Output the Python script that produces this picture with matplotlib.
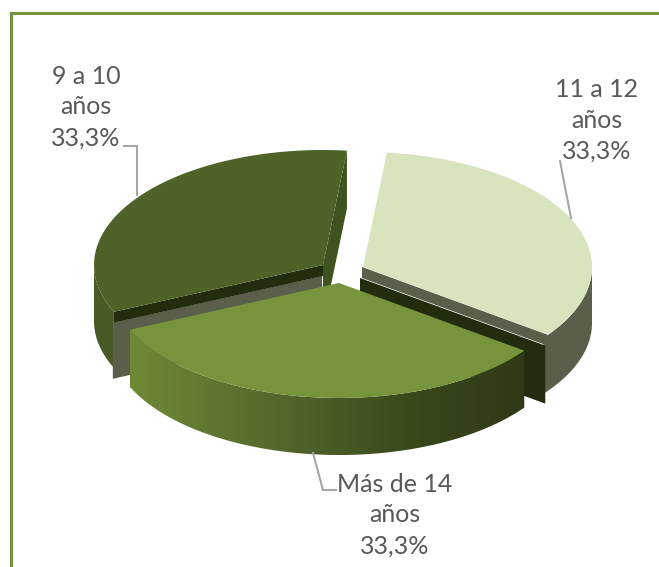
import numpy as np
import matplotlib
matplotlib.use("Agg")
import matplotlib.pyplot as plt
from matplotlib.colors import LinearSegmentedColormap
from matplotlib.patches import Polygon

categories = ["11 a 12\naños", "Más de 14\naños", "9 a 10\naños"]
values = [33.3, 33.3, 33.3]
pct_labels = ["33,3%", "33,3%", "33,3%"]

top_colors = ["#d7e4bd", "#77933c", "#4f6228"]
grey_wall = "#5a5f4b"
dark_wall = "#222c0f"
side_dark = "#3f5320"
side_left = "#495b25"
text_color = "#595959"
leader_color = "#a6a6a6"

W, H = 659, 567
RX, RY = 229, 115
DEPTH = 56
STRIP = 11
START = 84
centers = [(363, 267), (339, 283), (323, 265)]
label_pos = [(597, 120), (395, 515), (86, 107)]
leaders = [
    ([560, 571], [161, 218]),
    ([313, 323, 336], [453, 490, 490]),
    ([124, 137, 137], [146, 146, 195]),
]

fig = plt.figure(figsize=(W / 100, H / 100), dpi=100)
ax = fig.add_axes([0, 0, 1, 1])
ax.set_xlim(0, W)
ax.set_ylim(H, 0)
ax.axis("off")

# angles of each slice, clockwise from START
shares = np.array(values) / sum(values) * 360
edges = START - np.concatenate([[0], np.cumsum(shares)])


def arc(center, a0, a1, dy=0):
    t = np.radians(np.linspace(a0, a1, 120))
    return center[0] + RX * np.cos(t), center[1] - RY * np.sin(t) + dy


def top_poly(i):
    x, y = arc(centers[i], edges[i], edges[i + 1])
    return np.column_stack([np.r_[centers[i][0], x], np.r_[centers[i][1], y]])


def wall(center, a0, a1, depth=DEPTH):
    x, y = arc(center, a0, a1)
    x2, y2 = arc(center, a1, a0, depth)
    return np.column_stack([np.r_[x, x2], np.r_[y, y2]])


def cut(center, angle, d0, d1, dx=0):
    ex, ey = arc(center, angle, angle)
    return [(center[0] + dx, center[1] + d0), (ex[0] + dx, ey[0] + d0),
            (ex[0] + dx, ey[0] + d1), (center[0] + dx, center[1] + d1)]


# dark slice (back left)
c = centers[2]
ax.add_patch(Polygon(wall(c, -180, edges[2]), color=side_left, lw=0))
ex, ey = arc(c, START, START)
ax.add_patch(Polygon([(ex[0], ey[0]), (ex[0], ey[0] + DEPTH + 2), (c[0], c[1] + DEPTH + 2), c],
                     color=side_dark, lw=0))
ax.add_patch(Polygon(cut(c, edges[2], STRIP, STRIP + DEPTH, dx=-1), color=grey_wall, lw=0))
ax.add_patch(Polygon(cut(c, edges[2], 0, STRIP, dx=0), color=dark_wall, lw=0))
ax.add_patch(Polygon(top_poly(2), color=top_colors[2], lw=0))

# light slice (right), wall starts a bit early so no gap shows next to the dark cut
c = centers[0]
ax.add_patch(Polygon(wall(c, edges[1] - 2, 0), color=grey_wall, lw=0))
ax.add_patch(Polygon(cut(c, edges[1], STRIP, STRIP + DEPTH + 2, dx=-3), color=dark_wall, lw=0))
ax.add_patch(Polygon(cut(c, edges[1], 0, STRIP, dx=-1), color=grey_wall, lw=0))
ax.add_patch(Polygon(top_poly(0), color=top_colors[0], lw=0))

# medium slice (front) with shaded wall
c = centers[1]
wall_pts = wall(c, edges[1], edges[2], DEPTH + 1)
clip = Polygon(wall_pts, transform=ax.transData, facecolor="none", lw=0)
ax.add_patch(clip)
shade = LinearSegmentedColormap.from_list(
    "shade", [(0, "#6f8a36"), (0.25, "#5d7330"), (0.45, "#4e6128"), (0.7, "#394a1c"), (1, "#2f3916")])
im = ax.imshow(np.linspace(0, 1, 256)[None, :], cmap=shade, aspect="auto", zorder=1,
               extent=[wall_pts[:, 0].min(), wall_pts[:, 0].max(), H, 0])
im.set_clip_path(clip)
ax.set_xlim(0, W)
ax.set_ylim(H, 0)
ax.add_patch(Polygon(top_poly(1), color=top_colors[1], lw=0))

for xs, ys in leaders:
    ax.plot(xs, ys, color=leader_color, lw=1.5, solid_joinstyle="miter")

for name, pct, (x, y) in zip(categories, pct_labels, label_pos):
    ax.text(x, y, name + "\n" + pct, ha="center", va="center", color=text_color,
            family="Lato", fontsize=18, linespacing=1.42)

# frame, only top and left
ax.plot([11.3, 11.3], [H, 13.3], color="#76923c", lw=2.2, solid_capstyle="projecting")
ax.plot([11.3, W], [13.3, 13.3], color="#76923c", lw=2.2, solid_capstyle="projecting")

fig.savefig("out.png", dpi=100)
